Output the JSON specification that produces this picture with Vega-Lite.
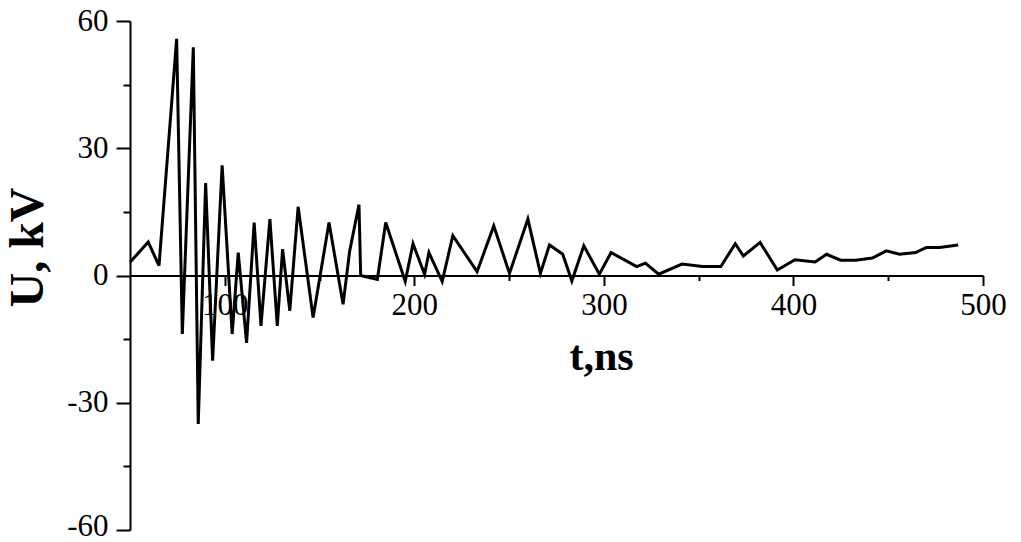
{
  "$schema": "https://vega.github.io/schema/vega-lite/v6.json",
  "width": 853,
  "height": 509,
  "autosize": {"type": "none"},
  "padding": {"left": 130, "top": 21, "right": 38, "bottom": 12},
  "background": "white",
  "config": {
    "view": {"stroke": null},
    "axis": {
      "grid": false,
      "domainColor": "black",
      "domainWidth": 2,
      "tickColor": "black",
      "tickWidth": 2,
      "labelColor": "black",
      "labelFont": "Liberation Serif",
      "labelFontSize": 31,
      "labelFlush": false,
      "labelOverlap": false,
      "titleColor": "black",
      "titleFont": "Liberation Serif",
      "titleFontWeight": "bold"
    }
  },
  "data": {
    "values": [
      {"t": 50, "U": 3.1}, {"t": 59.6, "U": 7.9}, {"t": 65.3, "U": 2.3}, {"t": 74.6, "U": 55.8},
      {"t": 77.6, "U": -13.8}, {"t": 83.4, "U": 53.8}, {"t": 86.0, "U": -35.0}, {"t": 89.9, "U": 21.8},
      {"t": 93.6, "U": -20.1}, {"t": 98.6, "U": 26.0}, {"t": 103.9, "U": -13.8}, {"t": 107.1, "U": 5.4},
      {"t": 111.5, "U": -15.9}, {"t": 115.5, "U": 12.5}, {"t": 119.1, "U": -11.9}, {"t": 123.8, "U": 13.3},
      {"t": 127.7, "U": -11.9}, {"t": 130.5, "U": 6.2}, {"t": 134.3, "U": -8.3}, {"t": 138.7, "U": 16.2},
      {"t": 146.6, "U": -9.9}, {"t": 155.0, "U": 12.5}, {"t": 162.4, "U": -6.8}, {"t": 165.9, "U": 5.8},
      {"t": 170.8, "U": 16.7}, {"t": 171.7, "U": 0.0}, {"t": 180.5, "U": -0.9}, {"t": 184.9, "U": 12.5},
      {"t": 195.2, "U": -1.4}, {"t": 199.3, "U": 7.5}, {"t": 205.4, "U": 0.3}, {"t": 207.7, "U": 5.4},
      {"t": 214.7, "U": -1.4}, {"t": 220.3, "U": 9.4}, {"t": 233.1, "U": 0.9}, {"t": 241.9, "U": 11.7},
      {"t": 250.2, "U": 0.5}, {"t": 259.9, "U": 13.3}, {"t": 266.5, "U": 0.5}, {"t": 271.3, "U": 7.2},
      {"t": 278.3, "U": 5.0}, {"t": 283.1, "U": -1.3}, {"t": 289.4, "U": 7.0}, {"t": 297.6, "U": 0.3},
      {"t": 303.8, "U": 5.4}, {"t": 317.3, "U": 2.1}, {"t": 321.9, "U": 2.9}, {"t": 328.9, "U": 0.3},
      {"t": 341.2, "U": 2.7}, {"t": 352.1, "U": 2.1}, {"t": 361.7, "U": 2.1}, {"t": 369.3, "U": 7.5},
      {"t": 373.6, "U": 4.6}, {"t": 382.4, "U": 7.8}, {"t": 391.5, "U": 1.3}, {"t": 400.8, "U": 3.7},
      {"t": 411.4, "U": 3.2}, {"t": 417.5, "U": 5.0}, {"t": 424.9, "U": 3.6}, {"t": 432.8, "U": 3.6},
      {"t": 441.6, "U": 4.1}, {"t": 449.0, "U": 5.8}, {"t": 456.0, "U": 5.0}, {"t": 464.5, "U": 5.4},
      {"t": 470.1, "U": 6.6}, {"t": 477.1, "U": 6.6}, {"t": 486.9, "U": 7.2}
    ]
  },
  "mark": {"type": "line", "color": "black", "strokeWidth": 3},
  "encoding": {
    "x": {
      "field": "t",
      "type": "quantitative",
      "scale": {"domain": [50, 500], "nice": false, "zero": false},
      "axis": {
        "values": [100, 150, 200, 250, 300, 350, 400, 450, 500],
        "offset": -254.5,
        "labelExpr": "datum.value % 100 === 0 ? '' + datum.value : ''",
        "tickSize": {"condition": {"test": "datum.value % 100 === 0", "value": 10}, "value": 5},
        "labelPadding": 5,
        "title": "t,ns",
        "titleFontSize": 42,
        "titleX": 471,
        "titleY": 94,
        "titleAlign": "center",
        "titleBaseline": "alphabetic"
      }
    },
    "y": {
      "field": "U",
      "type": "quantitative",
      "scale": {"domain": [-60, 60], "nice": false},
      "axis": {
        "values": [-60, -45, -30, -15, 0, 15, 30, 45, 60],
        "labelExpr": "datum.value % 30 === 0 ? (datum.value < 0 ? '-' + abs(datum.value) : '' + datum.value) : ''",
        "tickSize": {"condition": {"test": "datum.value % 30 === 0", "value": 14}, "value": 7},
        "labelOffset": {"condition": {"test": "datum.value === -60", "value": -4}, "value": 0},
        "labelPadding": 8,
        "title": "U, kV",
        "titleFontSize": 48,
        "titleX": -88,
        "titleY": 226,
        "titleAngle": -90,
        "titleAlign": "center",
        "titleBaseline": "alphabetic"
      }
    }
  }
}
